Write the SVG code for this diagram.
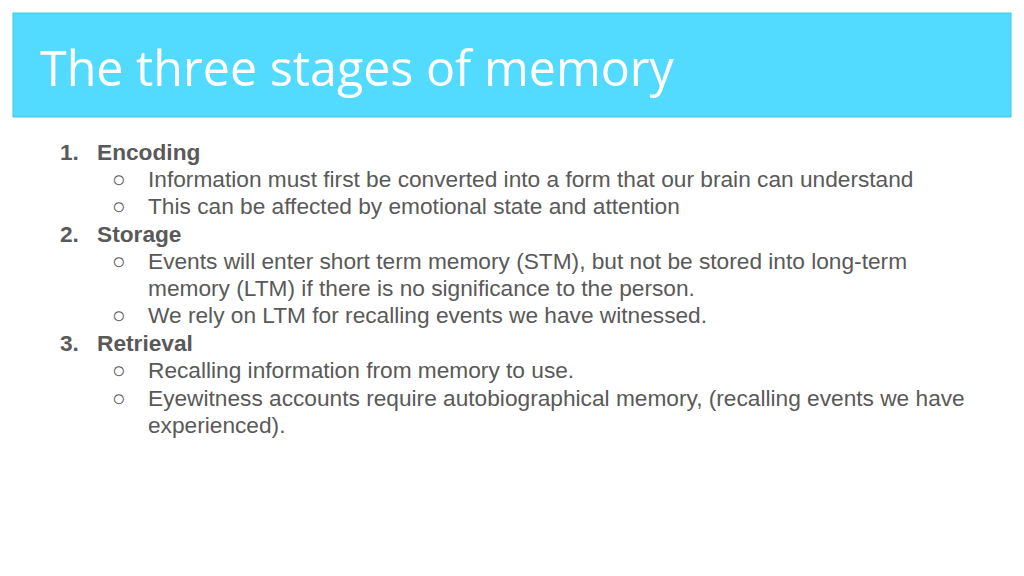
<svg xmlns="http://www.w3.org/2000/svg" width="1024" height="576" viewBox="0 0 1024 576">
<style>
.t{font-family:"Liberation Sans",Arial,sans-serif;font-size:22.7px;fill:#595959}
.b{font-weight:bold}
</style>
<rect width="1024" height="576" fill="#fff"/>
<g id="header">
<rect x="13" y="13" width="998" height="104" fill="#52dbff" stroke="#3cc7ea" stroke-width="1"/>
<text x="40" y="86" font-family="'Open Sans',sans-serif" font-size="48.4" fill="#fff">The three stages of memory</text>
</g>
<g id="body" class="t">
<text x="60" y="160" class="t b" font-size="21">1.</text><text x="97" y="160" class="t b" font-size="21">Encoding</text>
<text x="112" y="187" class="t">○</text><text x="148" y="187" class="t">Information must first be converted into a form that our brain can understand</text>
<text x="112" y="214" class="t">○</text><text x="148" y="214" class="t">This can be affected by emotional state and attention</text>
<text x="60" y="242" class="t b" font-size="21">2.</text><text x="97" y="242" class="t b" font-size="21">Storage</text>
<text x="112" y="269" class="t">○</text><text x="148" y="269" class="t">Events will enter short term memory (STM), but not be stored into long-term</text>
<text x="148" y="296" class="t">memory (LTM) if there is no significance to the person.</text>
<text x="112" y="323" class="t">○</text><text x="148" y="323" class="t">We rely on LTM for recalling events we have witnessed.</text>
<text x="60" y="351" class="t b" font-size="21">3.</text><text x="97" y="351" class="t b" font-size="21">Retrieval</text>
<text x="112" y="378" class="t">○</text><text x="148" y="378" class="t">Recalling information from memory to use.</text>
<text x="112" y="406" class="t">○</text><text x="148" y="406" class="t">Eyewitness accounts require autobiographical memory, (recalling events we have</text>
<text x="148" y="433" class="t">experienced).</text>
</g>
</svg>
